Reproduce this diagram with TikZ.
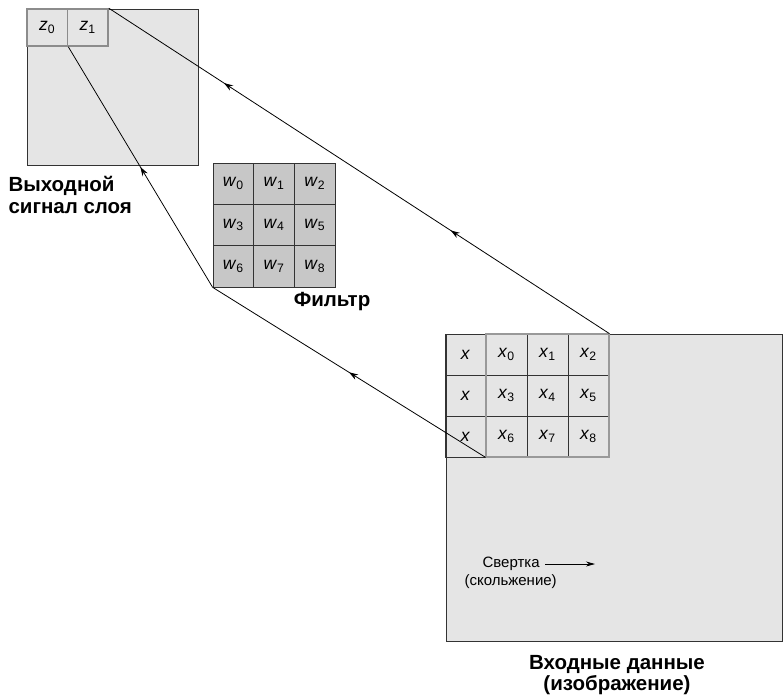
\documentclass[tikz,border=0pt]{standalone}
\usepackage{fontspec}
\setmainfont{Liberation Sans}
\usetikzlibrary{arrows.meta,decorations.markings}

\begin{document}
\begin{tikzpicture}[
    x=1pt, y=-1pt,
    map/.style={rectangle, draw=black!80, fill=black!10, line width=0.9pt, inner sep=0pt},
    cell/.style={rectangle, draw=black!80, line width=0.8pt, inner sep=0pt,
                 minimum width=41pt, minimum height=41pt, font=\fontsize{17.5}{20}\selectfont},
    wcell/.style={cell, fill=black!22, minimum width=40.7pt, minimum height=41.3pt},
    zcell/.style={cell, draw=black!45, line width=1.6pt, minimum width=40.5pt, minimum height=37pt},
    caption/.style={font=\fontsize{20.5}{23}\selectfont\bfseries, align=center},
    note/.style={font=\fontsize{15}{17}\selectfont},
    link/.style={line width=0.8pt, postaction={decorate}},
    tip/.style={decoration={markings, mark=at position #1 with {\arrow{Stealth[length=9pt,width=6pt]}}}},
    tips/.style 2 args={decoration={markings,
        mark=at position #1 with {\arrow{Stealth[length=9pt,width=6pt]}},
        mark=at position #2 with {\arrow{Stealth[length=9pt,width=6pt]}}}}
]
    \useasboundingbox (0,0) rectangle (783,694);

    % выходной сигнал слоя
    \node[map, minimum width=171pt, minimum height=156pt] (outmap) at (112.5,87) {};
    \node[zcell] (z0) at (47.25,27.5) {\textit{z}\textsubscript{0}};
    \node[zcell] (z1) at (87.75,27.5) {\textit{z}\textsubscript{1}};
    \node[caption, align=left, anchor=north west] (outlbl) at (5,173)
        {Выходной\\[-1pt]сигнал слоя};

    % фильтр 3x3
    \foreach \i in {0,...,8} {
        \pgfmathtruncatemacro{\c}{mod(\i,3)}
        \pgfmathtruncatemacro{\r}{int(\i/3)}
        \node[wcell] (w\i) at (233.35+40.7*\c, 183.65+41.3*\r) {\textit{w}\textsubscript{\i}};
    }
    \node[caption] (flbl) at (332,302) {Фильтр};

    % входные данные
    \node[map, minimum width=336pt, minimum height=307pt] (inmap) at (614,487.5) {};
    \foreach \r in {0,1,2} {
        \node[cell] (xl\r) at (465.5, 354.5+41*\r) {\textit{x}};
    }
    \foreach \i in {0,...,8} {
        \pgfmathtruncatemacro{\c}{mod(\i,3)}
        \pgfmathtruncatemacro{\r}{int(\i/3)}
        \node[cell] (x\i) at (506.5+41*\c, 354.5+41*\r) {\textit{x}\textsubscript{\i}};
    }
    \draw[black!40, line width=2pt] (x0.north west) rectangle (x8.south east);

    \node[note, anchor=west] (slide) at (479,564) {Свертка};
    \node[note, anchor=north west] (slide2) at (461,571) {(скольжение)};
    \coordinate (slideend) at (595,564);
    \draw[-{Stealth[length=9pt,width=5pt]}, line width=0.8pt] ([xshift=2pt]slide.east) -- (slideend);

    \node[caption] (inlbl) at (617,675) {Входные данные\\[-2pt](изображение)};

    % связи
    \draw[link, tips={0.317}{0.77}] (x2.north east) -- (z1.north east);
    \draw[link, tip=0.5] (x6.south west) -- (w6.south west);
    \draw[link, tip=0.5] (w6.south west) -- (z0.south east);
\end{tikzpicture}
\end{document}
